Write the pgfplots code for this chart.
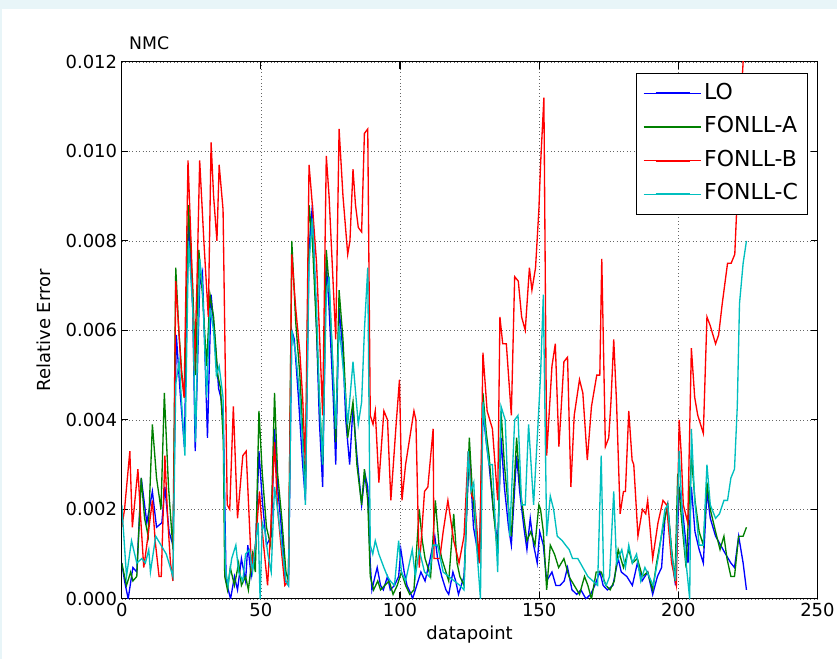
\documentclass[border=0pt]{standalone}
\usepackage{fontspec}
\setmainfont{DejaVu Sans}
\usepackage{pgfplots}
\pgfplotsset{compat=1.18}
\definecolor{bgc}{RGB}{232,245,248}
\definecolor{mplb}{HTML}{0000FF}
\definecolor{mplg}{HTML}{008000}
\definecolor{mplr}{HTML}{FF0000}
\definecolor{mplc}{HTML}{00BFBF}
\pgfplotsset{every axis title shift=0pt}
\begin{document}
\begin{tikzpicture}
\fill[bgc] (0pt,0pt) rectangle (629.25pt,495pt);
\fill[white] (1.5pt,0pt) rectangle (629.25pt,488.25pt);
\begin{axis}[
  at={(91.5pt,45pt)}, anchor=south west,
  width=522.75pt, height=403.5pt, scale only axis,
  xmin=0, xmax=250, ymin=0, ymax=0.012,
  xtick={0,50,100,150,200,250},
  ytick={0,0.002,0.004,0.006,0.008,0.010,0.012},
  scaled y ticks=false,
  yticklabel style={/pgf/number format/.cd, fixed, fixed zerofill, precision=3},
  /pgf/number format/assume math mode=true,
  tick label style={font=\fontsize{13.5}{15}\selectfont},
  label style={font=\fontsize{13.5}{15}\selectfont},
  xlabel={datapoint}, ylabel={Relative Error},
  xlabel style={at={(axis description cs:0.5,-0.0762)}, anchor=base},
  ylabel style={at={(axis description cs:-0.1019,0.5)}, anchor=base},
  title={NMC},
  title style={at={(axis description cs:0.004,1.0223)}, anchor=base west, font=\fontsize{13}{15}\selectfont},
  axis line style={line width=0.9pt},
  major tick style={line width=0.8pt, black},
  major tick length=5pt,
  tick align=inside,
  grid=major,
  grid style={black!60, line width=0.5pt, dash pattern=on 0.6pt off 2pt},
  legend style={at={(0.9857,0.9796)}, anchor=north east,
    font=\fontsize{16.5}{19}\selectfont, inner xsep=5pt, inner ysep=6pt,
    row sep=6.75pt, column sep=0pt,
    nodes={inner sep=2pt, text height=11.5pt, text depth=3pt}},
  legend cell align=left,
  legend image code/.code={\path (-5pt,0pt) -- (38pt,0pt); \draw[line width=1.5pt] (4pt,0pt) -- (29.75pt,0pt);},
  every axis plot/.append style={line width=1pt},
]
\addplot[color=mplb, draw=mplb, no marks] coordinates {
(0,.0008) (1,.0004) (2.3,0) (4,.0007) (5.4,.0006) (7,.0027) (9,.0017) (11,.0024) (12.5,.0016) (14.4,.0017) (15.5,.0025) (17,.0015) (18.4,.0012) (19.6,.0059) (21,.0046) (22.5,.0034) (24,.0085) (25.5,.0065) (26.4,.0033) (28,.0070) (29,.0073) (30.8,.0036) (32.1,.0068) (33.5,.0058) (34.8,.0047) (35.6,.0045) (36.5,.0040) (37.5,.0004) (39.1,0) (40.5,.0005) (41.6,.0002) (43,.0009) (44.5,.0004) (45.3,.0012) (46.5,.0005) (48,.0010) (49.3,.0033) (50.5,.0022) (52,.0012) (53.7,.0014) (54.9,.0038) (56,.0025) (57.5,.0015) (58.8,.0004) (59.9,.0003) (61.1,.0060) (62,.0058) (63.5,.0045) (65,.0030) (66,.0022) (67.3,.0078) (68.5,.0088) (70,.0060) (71,.0040) (72.2,.0025) (73.5,.0075) (74.5,.0065) (76,.0045) (76.9,.0030) (78.1,.0065) (79.5,.0055) (80.5,.0040) (81.9,.0030) (83.1,.0043) (84.5,.0032) (86.2,.0021) (87.4,.0028) (88.4,.0025) (89.3,.0008) (89.9,.0002) (91,.0005) (91.8,.0007) (93,.0003) (94,.0002) (95.5,.0005) (96.5,.0002) (98,.0003) (99.5,.0005) (100.3,.0011) (101.5,.0006) (102.5,.0003) (104,.0001) (104.5,0) (106,.0003) (107.5,.0006) (109,.0004) (110.5,.0008) (112.5,.0014) (113.5,.0009) (115,.0005) (116.5,.0002) (117.5,.0001) (119,.0006) (120,.0004) (121,.0001) (122,.0003) (123,.0005) (124.9,.0033) (126.4,.0016) (127.5,.0012) (128.5,.0008) (129.8,.0042) (131,.0035) (132,.0030) (133.5,.0020) (135.1,.0012) (136.3,.0036) (137.5,.0025) (139,.0016) (140,.0012) (141.9,.0032) (143,.0024) (144.5,.0016) (145.6,.0011) (146.8,.0018) (148,.0012) (149.3,.0008) (150.2,.0015) (151.5,.0012) (152.7,.0004) (154.6,.0006) (156,.0003) (157.5,.0003) (159,.0004) (160.2,.0007) (161.8,.0002) (163.5,.0001) (165,.0002) (166.8,0) (168.5,.0001) (170,.0003) (171.8,.0006) (173,.0003) (174.5,.0002) (176.5,.0003) (178.4,.0009) (179.5,.0006) (181.5,.0005) (183.5,.0003) (185.3,.0008) (187,.0004) (189,.0006) (190.8,.0001) (192.5,.0005) (194,.0007) (195.2,.0018) (196.2,.0021) (197.6,.0010) (199,.0003) (200.3,.0025) (201.5,.0020) (202.8,.0012) (203.5,.0008) (204.7,.0025) (206,.0015) (207.5,.0011) (209,.0008) (210.3,.0024) (211.5,.0018) (213.4,.0014) (215.2,.0012) (217,.0010) (218.9,.0008) (220.2,.0007) (221.7,.0014) (223.3,.0008) (224.5,.0002)
};
\addlegendentry{LO}
\addplot[color=mplg, draw=mplg, no marks] coordinates {
(0,.0008) (1.7,.0003) (3.2,.0006) (4,.0004) (5.4,.0005) (7,.0027) (8.2,.0018) (9.5,.0014) (11,.0039) (12.5,.0027) (14.1,.0020) (15.3,.0046) (16.8,.0025) (18.4,.0011) (19.4,.0074) (20.5,.0060) (21.5,.0051) (22.5,.0045) (24,.0088) (25.5,.0070) (26.5,.0050) (27.7,.0078) (29,.0068) (30.5,.0052) (31.7,.0068) (33,.0063) (34.5,.0050) (35.5,.0047) (36.5,.0035) (37,.0005) (38,.0002) (39,.0007) (40.5,.0003) (42,.0008) (43,.0003) (44.5,.0005) (45.5,.0002) (47,.0010) (48,.0006) (49.3,.0042) (50.5,.0028) (52,.0016) (53.5,.0012) (54.9,.0046) (56,.0028) (57.5,.0018) (59,.0006) (59.9,.0004) (61.1,.0080) (62.5,.0062) (64,.0050) (65,.0038) (66,.0024) (67.3,.0088) (68.5,.0080) (70,.0060) (71,.0045) (72.2,.0030) (73.5,.0078) (74.5,.0070) (76,.0050) (76.9,.0035) (78.1,.0069) (79.5,.0058) (81.2,.0036) (83.1,.0044) (84.5,.0030) (86.2,.0021) (87.2,.0029) (88.4,.0022) (89.3,.0005) (90.5,.0002) (92,.0004) (93,.0002) (94.5,.0003) (96.1,.0004) (97.5,.0001) (99,.0003) (100.5,.0006) (102,.0003) (103.5,.0001) (105,.0002) (106.9,.0020) (108,.0013) (109,.0009) (110,.0007) (111,.0005) (112.7,.0022) (114,.0012) (115,.0009) (116.5,.0006) (117.5,.0004) (119.3,.0019) (120.5,.0008) (121.5,.0005) (123,.0003) (124.9,.0036) (126,.0024) (127,.0017) (128.6,.0008) (129.8,.0046) (131,.0037) (132,.0032) (133.5,.0020) (135.1,.0010) (136.3,.0042) (137.5,.0030) (139,.0020) (140,.0014) (141.9,.0036) (143,.0026) (143.7,.0022) (145.6,.0013) (147,.0015) (148.5,.0012) (149.9,.0021) (150.5,.0020) (151.5,.0015) (152.7,.0002) (154,.0012) (155.5,.0010) (157,.0007) (158.9,.0009) (160.7,.0005) (162.6,.0003) (164.5,.0001) (166.3,.0005) (167.5,.0003) (168.8,0) (170.5,.0006) (172.3,.0006) (174,.0003) (175.5,.0002) (177,.0004) (178.4,.0011) (180.3,.0007) (182.2,.0011) (183.5,.0008) (185.3,.0009) (187.1,.0005) (189,.0006) (190.8,.0002) (192.2,.0008) (194.5,.0016) (196.2,.0021) (197.6,.0011) (198.8,.0004) (199.8,.0028) (201,.0019) (202.8,.0007) (204.7,.0032) (206,.0022) (207.5,.0015) (209,.0012) (210.3,.0026) (211.5,.0020) (213.4,.0015) (215,.0011) (216.4,.0014) (217.5,.0009) (218.9,.0005) (220.2,.0005) (221.7,.0014) (223.3,.0014) (224.5,.0016)
};
\addlegendentry{FONLL-A}
\addplot[color=mplr, draw=mplr, no marks] coordinates {
(0,.0016) (1,.0020) (2.9,.0033) (3.8,.0016) (5.8,.0029) (6.8,.0018) (7.9,.0007) (9,.0012) (11,.0022) (12,.0013) (13.4,.0005) (14.2,.0005) (15.5,.0032) (16.5,.0018) (17.5,.0008) (18.4,.0004) (19.4,.0071) (20.5,.0060) (21.5,.0050) (22.4,.0045) (23.8,.0098) (25,.0078) (26.1,.0051) (27,.0070) (28,.0098) (29.5,.0080) (31.1,.0063) (32.1,.0102) (33,.0090) (34.2,.0080) (35,.0097) (36.4,.0087) (37.9,.0021) (38.8,.0020) (40.1,.0043) (41.6,.0018) (43.5,.0032) (44.7,.0033) (46.6,.0007) (48,.0012) (49.5,.0024) (50.5,.0015) (52.4,.0003) (53.5,.0015) (54.9,.0035) (56,.0020) (57.5,.0010) (58.6,.0003) (59.9,.0004) (61.1,.0077) (62.5,.0065) (64,.0055) (65,.0045) (66,.0030) (67.3,.0097) (68.5,.0088) (70,.0075) (71,.0060) (72.2,.0041) (73.5,.0099) (74.5,.0090) (76,.0070) (76.9,.0058) (78.1,.0105) (79.5,.0090) (81.2,.0077) (82,.0080) (83.1,.0096) (84,.0088) (85,.0083) (86.2,.0082) (87.2,.0104) (88.4,.0105) (89.3,.0041) (90.3,.0039) (91.1,.0042) (92.4,.0026) (94.2,.0042) (95.5,.0040) (96.7,.0022) (98.6,.0039) (99.8,.0049) (100.7,.0022) (102,.0030) (103.5,.0036) (105,.0042) (105.7,.0040) (106.9,.0007) (107.5,.0012) (108.8,.0024) (110,.0025) (111.9,.0038) (112.2,.0009) (114.3,.0009) (115.5,.0015) (117.2,.0022) (119.3,.0013) (121.2,.0008) (123,.0014) (124.5,.0033) (125.8,.0023) (126.8,.0022) (128.6,.0008) (129.8,.0055) (131.3,.0042) (133.2,.0038) (135.1,.0022) (135.9,.0063) (136.9,.0057) (138.2,.0057) (140,.0041) (141.2,.0072) (142.5,.0071) (143.7,.0063) (145,.0060) (146.5,.0074) (147.4,.0069) (148.7,.0074) (149.9,.0087) (150.5,.0097) (151.7,.0112) (152.7,.0032) (154.6,.0052) (155.8,.0057) (157.1,.0034) (158.9,.0053) (160.2,.0054) (161.4,.0025) (162.6,.0041) (164.5,.0049) (165.7,.0046) (167.3,.0031) (168.8,.0043) (170.7,.0050) (171.8,.0050) (172.5,.0076) (173.8,.0034) (175,.0036) (175.8,.0044) (176.8,.0058) (177.8,.0044) (179.1,.0019) (180.3,.0024) (181,.0024) (182.2,.0042) (183.4,.0031) (184,.0030) (185.5,.0014) (187.1,.0020) (188.3,.0019) (189,.0022) (190.8,.0009) (192.7,.0017) (194.5,.0022) (195.8,.0021) (197.6,.0008) (199.3,.0003) (200.3,.0040) (201,.0033) (201.8,.0021) (203.4,.0017) (204.7,.0056) (205.9,.0045) (207,.0041) (209,.0037) (210.3,.0063) (211.5,.0061) (213.4,.0057) (214.5,.0059) (215.8,.0066) (217.7,.0075) (219,.0075) (220.3,.0077) (221.2,.0090) (222,.0105) (223.3,.0120) (224.5,.0135)
};
\addlegendentry{FONLL-B}
\addplot[color=mplc, draw=mplc, no marks] coordinates {
(0,.0021) (1.7,.0005) (3.5,.0013) (5.4,.0008) (7.2,.0009) (8.5,.0008) (9.7,.0011) (10.3,.0006) (12.2,.0014) (14.1,.0012) (16,.0010) (18.4,.0005) (19.4,.0048) (20.6,.0053) (22.7,.0032) (24,.0080) (25.5,.0065) (26.5,.0035) (28,.0076) (29,.0070) (30.5,.0045) (31.7,.0065) (33,.0060) (34,.0050) (35,.0052) (36.4,.0045) (37.2,.0007) (38.2,.0003) (39.5,.0009) (41,.0012) (42,.0006) (43.5,.0004) (44.5,.0010) (45.9,.0011) (47,.0006) (48,.0012) (49,.0017) (49.7,0) (50.5,.0017) (51.5,.0015) (52.5,.0010) (53.7,.0006) (54.9,.0025) (56,.0020) (57.5,.0012) (59,.0004) (59.9,.0003) (61.1,.0060) (62.5,.0055) (64,.0045) (65,.0035) (66,.0021) (67.3,.0075) (68.5,.0085) (70,.0065) (71,.0045) (72.2,.0030) (73.5,.0068) (74.5,.0072) (76,.0050) (76.9,.0038) (78.1,.0061) (79.5,.0052) (81.2,.0039) (83.1,.0053) (85,.0039) (86.2,.0044) (87.2,.0060) (88.4,.0074) (89.3,.0012) (90.2,.0010) (91.1,.0013) (92.4,.0010) (94.2,.0007) (95.5,.0005) (96.5,.0004) (98,.0003) (99.5,.0013) (100.5,.0006) (102,.0004) (104.4,.0011) (105.5,.0005) (106.9,.0011) (108.8,.0006) (110.5,.0005) (111.9,.0012) (113.5,.0012) (115.5,.0006) (117.5,.0005) (119.5,.0004) (121.5,.0003) (123,.0002) (124.5,.0033) (125.5,.0024) (126.5,.0026) (127.5,.0012) (128.9,0) (129.8,.0044) (131,.0035) (132,.0030) (133.2,.0030) (135.1,.0006) (136.3,.0043) (137.8,.0040) (139.4,.0014) (141.2,.0040) (142.4,.0041) (143.7,.0021) (145,.0021) (146.2,.0039) (148,.0021) (149.5,.0038) (150.5,.0050) (151.5,.0068) (152.7,.0014) (154,.0023) (155.2,.0020) (156.5,.0014) (158.3,.0013) (159.5,.0012) (160.8,.0011) (162,.0009) (163.9,.0009) (165.7,.0007) (167.5,.0005) (169.3,.0004) (171,.0003) (172.3,.0032) (173.2,.0004) (174.1,.0003) (175.3,.0005) (176.8,.0024) (177.8,.0008) (179.7,.0011) (181,.0007) (182.2,.0012) (183.5,.0008) (185,.0010) (186.5,.0004) (188,.0007) (189.5,.0005) (191,.0003) (193,.0010) (195.2,.0020) (196.2,.0021) (197.6,.0010) (199,.0004) (200.3,.0033) (201.5,.0018) (202.8,.0008) (204.1,0) (204.7,.0038) (205.9,.0022) (207.5,.0012) (209,.0012) (210.3,.0030) (211.5,.0021) (213.4,.0018) (214.8,.0019) (216.4,.0022) (217.7,.0022) (218.9,.0027) (220.2,.0029) (221.2,.0043) (222,.0066) (223.3,.0075) (224.5,.0080)
};
\addlegendentry{FONLL-C}
\end{axis}
\end{tikzpicture}
\end{document}
